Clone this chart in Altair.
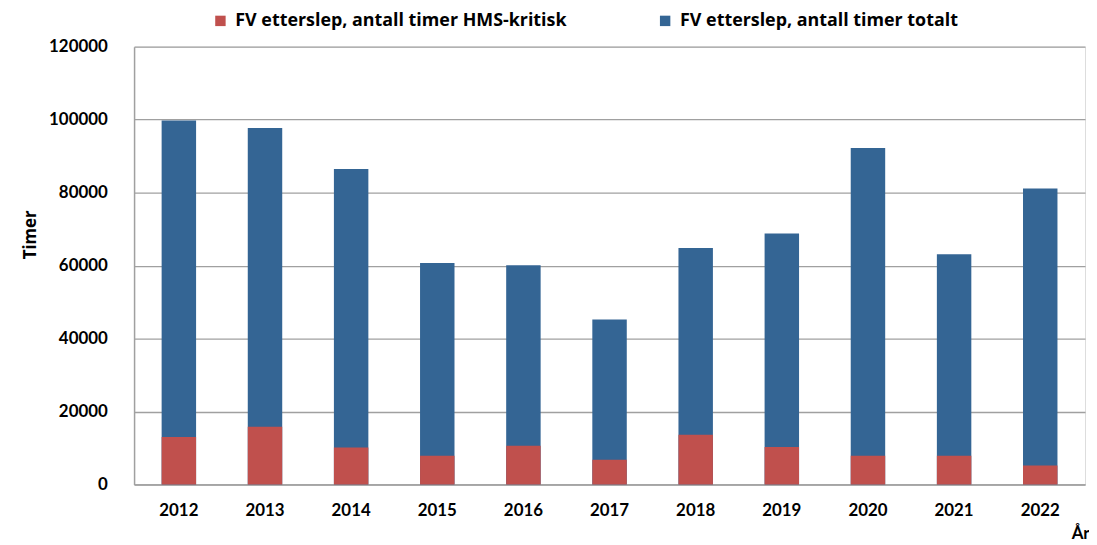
import altair as alt
import pandas as pd

years = ["2012", "2013", "2014", "2015", "2016", "2017", "2018", "2019", "2020", "2021", "2022"]
totalt = [99800, 97700, 86500, 60700, 60100, 45200, 64800, 68800, 92200, 63100, 81100]
hms = [13000, 15800, 10100, 7900, 10600, 6800, 13600, 10300, 7900, 7900, 5200]

s_hms = "FV etterslep, antall timer HMS-kritisk"
s_tot = "FV etterslep, antall timer totalt"

rows = []
for y, v in zip(years, totalt):
    rows.append({"year": y, "serie": s_tot, "value": v})
for y, v in zip(years, hms):
    rows.append({"year": y, "serie": s_hms, "value": v})
df = pd.DataFrame(rows)

FONT = "Lato"
FONT2 = "Open Sans"

color = alt.Color(
    "serie:N",
    scale=alt.Scale(domain=[s_hms, s_tot], range=["#C0504D", "#346594"]),
    legend=alt.Legend(
        title=None,
        orient="none",
        legendX=78,
        legendY=-35,
        direction="horizontal",
        columns=2,
        columnPadding=90,
        symbolType="square",
        symbolSize=110,
        symbolStrokeWidth=0,
        labelFont=FONT2,
        labelFontSize=18,
        labelFontWeight="bold",
        labelColor="#000000",
        labelOffset=6,
        labelLimit=0,
    ),
)

x = alt.X(
    "year:N",
    sort=years,
    scale=alt.Scale(paddingInner=0.6, paddingOuter=0.32),
    axis=alt.Axis(
        title="År",
        titleFont=FONT,
        titleFontSize=17,
        titleFontWeight="bold",
        titleColor="#000000",
        titleAlign="left",
        titleAnchor="start",
        titleX=944,
        titleY=54,
        titleBaseline="alphabetic",
        labelAngle=0,
        labelFont=FONT,
        labelFontSize=17,
        labelFontWeight="bold",
        labelColor="#000000",
        labelPadding=18,
        ticks=False,
        domainColor="#A0A0A0",
        domainWidth=1.5,
    ),
)

y = alt.Y(
    "value:Q",
    stack=None,
    scale=alt.Scale(domain=[0, 120000], nice=False),
    axis=alt.Axis(
        title="Timer",
        titleFont=FONT2,
        titleFontSize=17,
        titleFontWeight="bold",
        titleColor="#000000",
        titleX=-104,
        titleY=189,
        titleBaseline="middle",
        values=[0, 20000, 40000, 60000, 80000, 100000, 120000],
        format="d",
        labelFont=FONT,
        labelFontSize=17,
        labelFontWeight="bold",
        labelColor="#000000",
        labelPadding=27,
        ticks=False,
        domainColor="#A0A0A0",
        domainWidth=1.5,
        gridColor="#A0A0A0",
        gridWidth=1.3,
    ),
)

base = alt.Chart(df)
blue = base.transform_filter(alt.datum.serie == s_tot).mark_bar().encode(x=x, y=y, color=color)
red = base.transform_filter(alt.datum.serie == s_hms).mark_bar().encode(x=x, y=y, color=color)

chart = (
    alt.layer(blue, red)
    .properties(
        width=958,
        height=441,
        autosize=alt.AutoSizeParams(type="none"),
        padding={"left": 127, "top": 37, "right": 4, "bottom": 59},
    )
    .configure_view(stroke=None)
    .configure(background="#FFFFFF")
)

chart.save("out.html", embed_options={"renderer": "svg", "actions": False})
